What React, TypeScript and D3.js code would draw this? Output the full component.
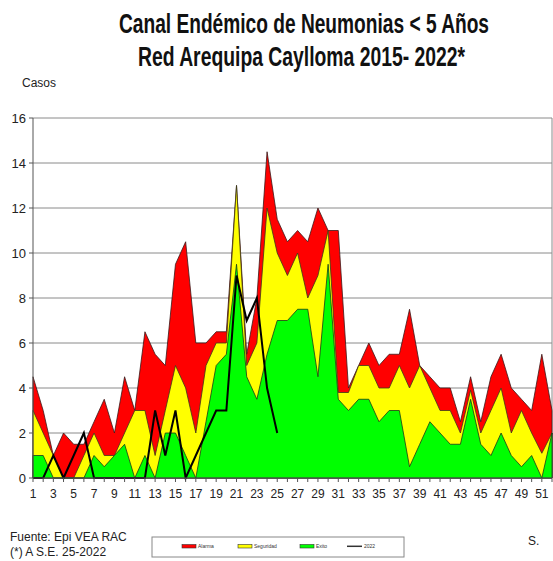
import React from 'react'
import { scaleLinear, area, line, range } from 'd3'

const weeks = range(1, 53)

// umbrales del canal endemico
const alarma = [4.5, 3, 1, 2, 1.5, 1.5, 2.5, 3.5, 2, 4.5, 3, 6.5, 5.5, 5, 9.5, 10.5, 6, 6, 6.5, 6.5, 13, 5.5, 8, 14.5, 11.5, 10.5,
  11, 10.5, 12, 11, 11, 4, 5, 6, 5, 5.5, 5.5, 7.5, 5, 4.5, 4, 4, 2.5, 4.5, 2.5, 4.5, 5.5, 4, 3.5, 3, 5.5, 3]
const seguridad = [3, 2, 1, 0, 0, 1, 2, 1, 1, 2, 3, 3, 1, 3, 5, 4, 2, 5, 6, 6, 13, 5, 6, 12, 10, 9,
  10, 8, 9, 11, 3.8, 3.8, 5, 5, 4, 4, 5, 4, 5, 4, 3, 3, 2, 3.9, 2, 3, 4, 2, 3, 2, 1.1, 2]
const exito = [1, 1, 0, 0, 0, 0, 1, 0.5, 1, 1.5, 0, 1, 0, 2, 2, 1, 0, 2.5, 5, 5.5, 9.5, 4.5, 3.5, 5.5, 7, 7,
  7.5, 7.5, 4.5, 9.5, 3.5, 3, 3.5, 3.5, 2.5, 3, 3, 0.5, 1.5, 2.5, 2, 1.5, 1.5, 3.5, 1.5, 1, 2, 1, 0.5, 1, 0, 2]
// casos 2022 hasta la S.E. 25
const casos2022 = [0, 0, 1, 0, 1, 2, 0, 0, 0, 0, 0, 0, 3, 1, 3, 0, 1, 2, 3, 3, 9, 7, 8, 4, 2]

const yTicks = [0, 2, 4, 6, 8, 10, 12, 14, 16]
const xLabels = range(1, 52, 2)

const legendItems = [
  { label: 'Alarma', color: '#FF0000', x: 182 },
  { label: 'Seguridad', color: '#FFFF00', x: 238 },
  { label: 'Exito', color: '#00FF00', x: 300 },
]

const font = '"Liberation Sans Narrow", "Liberation Sans", Arial, sans-serif'

function App() {
  const width = 553, height = 561
  const left = 33, right = 552, top = 118, bottom = 478

  const x = scaleLinear().domain([1, 52]).range([left, right])
  const y = scaleLinear().domain([0, 16]).range([bottom, top])

  const mkArea = (vals: number[]) =>
    area<number>().x((d, i) => x(weeks[i])).y0(y(0)).y1(d => y(d))(vals) || ''
  const mkLine = line<number>().x((d, i) => x(weeks[i])).y(d => y(d))

  // titulo estirado en vertical como el original
  const sy = 1.33

  return (
    <svg width={width} height={height} style={{ position: 'absolute', left: 0, top: 0, background: '#fff' }}>
      <rect x={0} y={0} width={width} height={height} fill="#fff" />
      <g fontFamily={font} fontWeight="bold" fontSize={21} fill="#111" transform={`scale(1, ${sy})`}>
        <text x={119} y={33 / sy} textLength={370} lengthAdjust="spacingAndGlyphs">Canal Endémico de Neumonias &lt; 5 Años</text>
        <text x={138} y={66 / sy} textLength={327} lengthAdjust="spacingAndGlyphs">Red Arequipa Caylloma 2015- 2022*</text>
      </g>
      <text x={22} y={87} fontFamily={font} fontSize={12} fill="#222">Casos</text>

      {/* grid */}
      {yTicks.filter(t => t > 0).map(t => (
        <line key={t} x1={left} x2={right} y1={y(t)} y2={y(t)} stroke="#8a8a8a" strokeWidth={1} />
      ))}
      <line x1={right} x2={right} y1={top} y2={bottom} stroke="#8a8a8a" strokeWidth={1} />

      {/* areas */}
      <path d={mkArea(alarma)} fill="#FF0000" stroke="#3a1a1a" strokeWidth={0.8} />
      <path d={mkArea(seguridad)} fill="#FFFF00" stroke="#3a3a1a" strokeWidth={0.8} />
      <path d={mkArea(exito)} fill="#00FF00" stroke="#1a3a1a" strokeWidth={0.8} />
      <path d={mkLine(casos2022) || ''} fill="none" stroke="#000" strokeWidth={2} />

      {/* axes */}
      <line x1={left} x2={left} y1={top} y2={bottom} stroke="#555" strokeWidth={1} />
      <line x1={left} x2={right} y1={bottom} y2={bottom} stroke="#555" strokeWidth={1} />
      {yTicks.map(t => (
        <g key={t}>
          <line x1={left - 4} x2={left} y1={y(t)} y2={y(t)} stroke="#555" />
          <text x={26} y={y(t) + 4.5} textAnchor="end" fontFamily={font} fontSize={13} fill="#222">{t}</text>
        </g>
      ))}
      {weeks.map(w => (
        <line key={w} x1={x(w)} x2={x(w)} y1={bottom} y2={bottom + 4} stroke="#555" />
      ))}
      {xLabels.map(w => (
        <text key={w} x={x(w)} y={498} textAnchor="middle" fontFamily={font} fontSize={12} fill="#222">{w}</text>
      ))}

      {/* footer */}
      <g fontFamily={font} fontSize={12} fill="#222">
        <text x={10} y={541}>Fuente: Epi VEA RAC</text>
        <text x={10} y={556}>(*) A S.E.  25-2022</text>
        <text x={528} y={545}>S.</text>
      </g>

      {/* legend */}
      <rect x={152} y={537} width={252} height={20} fill="#fff" stroke="#888" strokeWidth={1} />
      {legendItems.map(it => (
        <g key={it.label}>
          <rect x={it.x} y={544.5} width={14} height={3.5} fill={it.color} stroke="#333" strokeWidth={0.6} />
          <text x={it.x + 16} y={548} fontFamily={font} fontSize={5} fill="#333">{it.label}</text>
        </g>
      ))}
      <line x1={347} x2={362} y1={546.3} y2={546.3} stroke="#333" strokeWidth={1.5} />
      <text x={364} y={548} fontFamily={font} fontSize={5} fill="#333">2022</text>
    </svg>
  )
}

export default App
